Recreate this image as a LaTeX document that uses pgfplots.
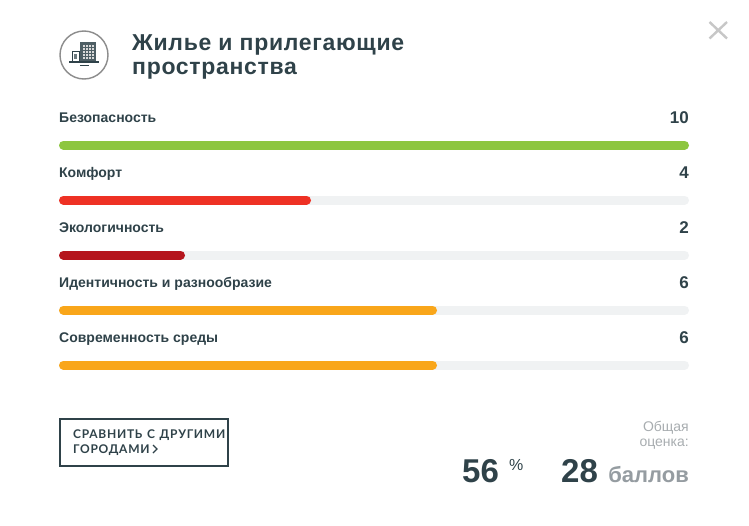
\documentclass[border=0pt]{standalone}
\usepackage{fontspec}
\setmainfont{Liberation Sans}
\newfontfamily\btnfont[LetterSpace=6,WordSpace=1.3]{Lato}
\newfontfamily\titlefont[LetterSpace=3]{Liberation Sans}
\usepackage{pgfplots}
\pgfplotsset{compat=1.18}
\usepackage{pgfplotstable}

\definecolor{ink}{HTML}{2F4249}
\definecolor{track}{HTML}{F0F2F3}
\definecolor{good}{HTML}{8DC63F}
\definecolor{bad}{HTML}{EE3124}
\definecolor{worst}{HTML}{B5151D}
\definecolor{mid}{HTML}{F9A61A}
\definecolor{soft}{HTML}{A8ADB0}
\definecolor{grayb}{HTML}{959CA1}

\begin{document}
\begin{tikzpicture}[x=1pt,y=1pt]
% page frame, origin at the top left of the reference
\path[fill=white] (0,0) rectangle (749,-525);

\begin{axis}[
    at={(59pt,-365pt)},
    anchor=south west,
    scale only axis,
    width=630pt,
    height=220pt,
    xmin=0, xmax=10,
    ymin=0, ymax=4,
    y dir=reverse,
    hide axis,
    clip=false,
    every axis plot/.append style={line width=9pt, line cap=round, shorten <=4.5pt, shorten >=4.5pt},
]
    % tracks
    \addplot[track] coordinates {(0,1) (10,1)};
    \addplot[track] coordinates {(0,2) (10,2)};
    \addplot[track] coordinates {(0,3) (10,3)};
    \addplot[track] coordinates {(0,4) (10,4)};
    % scores
    \addplot[good] coordinates {(0,0) (10,0)};
    \addplot[bad] coordinates {(0,1) (4,1)};
    \addplot[worst] coordinates {(0,2) (2,2)};
    \addplot[mid] coordinates {(0,3) (6,3)};
    \addplot[mid] coordinates {(0,4) (6,4)};
\end{axis}

% row labels
\foreach \name/\val [count=\i from 0] in {Безопасность/10,Комфорт/4,Экологичность/2,Идентичность и разнообразие/6,Современность среды/6} {
    \node[anchor=base west, inner sep=0pt, text=ink, font=\fontsize{14}{16}\selectfont\bfseries] at (59,-122.7-55*\i) {\name};
    \node[anchor=base east, inner sep=0pt, text=ink, font=\fontsize{17}{19}\selectfont\bfseries] at (689,-123-55*\i) {\val};
}

% title
\node[anchor=base west, inner sep=0pt, text=ink, font=\fontsize{23}{25}\titlefont\bfseries] at (132,-50) {Жилье и прилегающие};
\node[anchor=base west, inner sep=0pt, text=ink, font=\fontsize{23}{25}\titlefont\bfseries] at (132,-74) {пространства};

% icon
\draw[color=gray!90, line width=1.4pt] (84,-55) circle (24);
\fill[ink!85] (80,-42) rectangle (96,-62);
\foreach \cx in {82.5,85.5,88.5,91.5} \foreach \cy in {45,48,51,54,57}
    \fill[black!15] (\cx,-\cy) rectangle ++(2.1,-1.8);
\draw[ink, line width=1pt] (72.5,-51.5) rectangle (79,-62);
\fill[ink!70] (74,-54) rectangle (77,-59);
\draw[ink, line width=1.2pt] (69,-62) -- (99,-62);
\draw[ink, line width=1.2pt] (80,-65.5) -- (89,-65.5);

% close cross
\draw[color=black!22, line width=2.4pt] (709.5,-22) -- (727,-38.5) (727,-22) -- (709.5,-38.5);

% button
\draw[color=ink, line width=2.4pt] (60,-419) rectangle (228,-466);
\node[anchor=base west, inner sep=0pt, text=ink, font=\fontsize{12}{14}\btnfont\bfseries] at (73,-438) {СРАВНИТЬ С ДРУГИМИ};
\node[anchor=base west, inner sep=0pt, text=ink, font=\fontsize{12}{14}\btnfont\bfseries] at (73,-453) {ГОРОДАМИ};
\draw[ink, line width=1.1pt] (153,-445) -- (157,-449) -- (153,-453);

% totals
\node[anchor=base east, inner sep=0pt, text=soft, font=\fontsize{14}{16}\selectfont] at (689,-431) {Общая};
\node[anchor=base east, inner sep=0pt, text=soft, font=\fontsize{14}{16}\selectfont] at (689,-446) {оценка:};
\node[anchor=base west, inner sep=0pt, text=ink, font=\fontsize{33}{36}\selectfont\bfseries] at (462,-482) {56};
\node[anchor=base west, inner sep=0pt, text=ink, font=\fontsize{16}{18}\selectfont] at (509,-470) {\%};
\node[anchor=base west, inner sep=0pt, text=ink, font=\fontsize{33}{36}\selectfont\bfseries] at (561,-482) {28};
\node[anchor=base east, inner sep=0pt, text=grayb, font=\fontsize{22}{24}\selectfont\bfseries] at (689,-482) {баллов};
\end{tikzpicture}
\end{document}
